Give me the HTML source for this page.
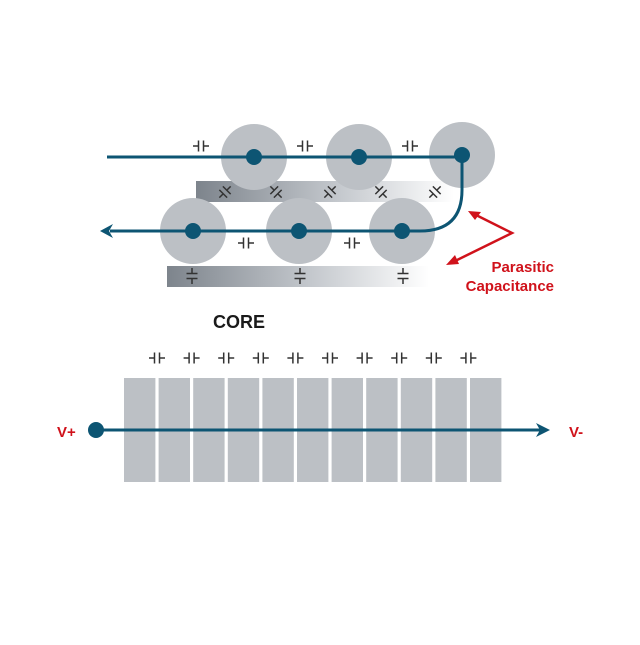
<!DOCTYPE html>
<html><head><style>html,body{margin:0;padding:0;background:#fff}</style></head>
<body>
<svg width="640" height="640" viewBox="0 0 640 640" xmlns="http://www.w3.org/2000/svg">
<defs>
<linearGradient id="g1" x1="0" x2="1" y1="0" y2="0">
<stop offset="0" stop-color="#7d848c"/><stop offset="0.55" stop-color="#c4c8cd"/><stop offset="1" stop-color="#ffffff"/>
</linearGradient>
<g id="cap" stroke="#333" stroke-width="1.5" fill="none">
<path d="M-8 0H-2.5M-2.5 -5.5V5.5M2.5 -5.5V5.5M2.5 0H8"/>
</g>
<g id="capv" transform="rotate(90)"><use href="#cap"/></g>
</defs>
<rect x="196" y="181" width="258" height="21" fill="url(#g1)"/>
<rect x="167" y="266" width="262" height="21" fill="url(#g1)"/>
<g fill="#bcc0c5">
<circle cx="254" cy="157" r="33"/><circle cx="359" cy="157" r="33"/><circle cx="462" cy="155" r="33"/>
<circle cx="193" cy="231" r="33"/><circle cx="299" cy="231" r="33"/><circle cx="402" cy="231" r="33"/>
</g>
<use href="#cap" x="201" y="146"/><use href="#cap" x="305" y="146"/><use href="#cap" x="410" y="146"/>
<use href="#cap" x="246" y="243"/><use href="#cap" x="352" y="243"/>
<g transform="translate(225,192) rotate(-45)"><use href="#cap"/></g>
<g transform="translate(276,192) rotate(45)"><use href="#cap"/></g>
<g transform="translate(330,192) rotate(-45)"><use href="#cap"/></g>
<g transform="translate(381,192) rotate(45)"><use href="#cap"/></g>
<g transform="translate(435,192) rotate(-45)"><use href="#cap"/></g>
<use href="#capv" x="192" y="276"/><use href="#capv" x="300" y="276"/><use href="#capv" x="403" y="276"/>
<g stroke="#0d5573" stroke-width="3" fill="none">
<path d="M107 157H462V190Q462 231 420 231H110"/>
</g>
<path d="M100 231L113 224L109 231L113 238Z" fill="#0d5573"/>
<g fill="#0d5573">
<circle cx="254" cy="157" r="8"/><circle cx="359" cy="157" r="8"/><circle cx="462" cy="155" r="8"/>
<circle cx="193" cy="231" r="8"/><circle cx="299" cy="231" r="8"/><circle cx="402" cy="231" r="8"/>
</g>
<g stroke="#d0121b" stroke-width="2.5" fill="none"><path d="M472 213L512 233L451 263"/></g>
<path d="M468 211L481 212L475 220Z" fill="#d0121b"/>
<path d="M446 265L455 255L459 264Z" fill="#d0121b"/>
<g font-family="Liberation Sans, sans-serif" font-weight="bold" fill="#d0121b" font-size="15" text-anchor="end">
<text x="554" y="272">Parasitic</text><text x="554" y="291">Capacitance</text>
</g>
<text x="213" y="328" font-family="Liberation Sans, sans-serif" font-weight="bold" font-size="18" fill="#1a1a1a">CORE</text>
<g fill="#bcc0c5">
<rect x="124" y="378" width="31.4" height="104"/><rect x="158.6" y="378" width="31.4" height="104"/>
<rect x="193.2" y="378" width="31.4" height="104"/><rect x="227.8" y="378" width="31.4" height="104"/>
<rect x="262.4" y="378" width="31.4" height="104"/><rect x="297" y="378" width="31.4" height="104"/>
<rect x="331.6" y="378" width="31.4" height="104"/><rect x="366.2" y="378" width="31.4" height="104"/>
<rect x="400.8" y="378" width="31.4" height="104"/><rect x="435.4" y="378" width="31.4" height="104"/>
<rect x="470" y="378" width="31.4" height="104"/>
</g>
<use href="#cap" x="157" y="358"/><use href="#cap" x="191.6" y="358"/><use href="#cap" x="226.2" y="358"/>
<use href="#cap" x="260.8" y="358"/><use href="#cap" x="295.4" y="358"/><use href="#cap" x="330" y="358"/>
<use href="#cap" x="364.6" y="358"/><use href="#cap" x="399.2" y="358"/><use href="#cap" x="433.8" y="358"/>
<use href="#cap" x="468.4" y="358"/>
<path d="M96 430H540" stroke="#0d5573" stroke-width="3"/>
<path d="M550 430L536 423L540 430L536 437Z" fill="#0d5573"/>
<circle cx="96" cy="430" r="8" fill="#0d5573"/>
<g font-family="Liberation Sans, sans-serif" font-weight="bold" fill="#d0121b" font-size="15">
<text x="57" y="437">V+</text><text x="569" y="437">V-</text>
</g>
</svg>
</body></html>
